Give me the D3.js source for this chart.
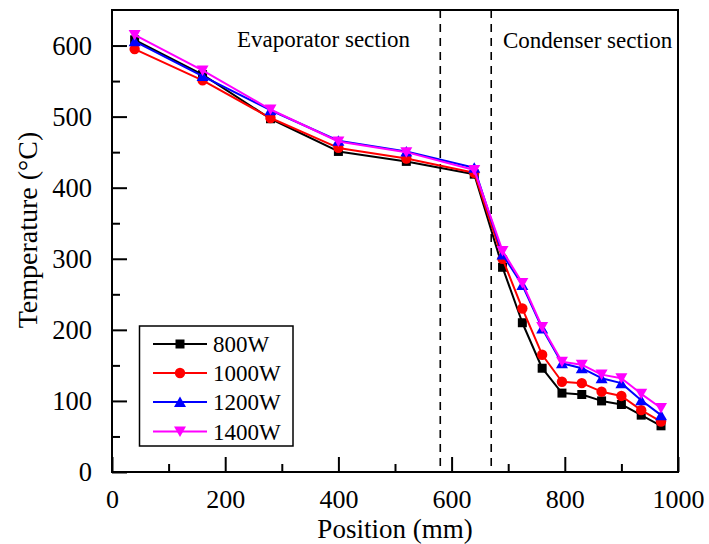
<!DOCTYPE html>
<html>
<head>
<meta charset="utf-8">
<script src="https://cdn.jsdelivr.net/npm/d3@7"></script>
<style>
  html, body { margin: 0; padding: 0; background: #fff; }
  svg { display: block; font-family: "Liberation Serif", "Times New Roman", serif; }
</style>
</head>
<body>
<svg id="chart" width="709" height="544"></svg>
<script>
// Measurement positions along the heat pipe (mm)
const positions = [40, 160, 280, 400, 520, 640, 690, 725, 760, 795, 830, 865, 900, 935, 970];

// Wall temperature (°C) for each heating power
const temp800  = [608, 559, 497, 451, 437, 419, 288, 210, 146, 111, 109, 100, 95, 80, 65];
const temp1000 = [595, 551, 498, 456, 441, 421, 300, 230, 165, 127, 125, 113, 107, 87, 71];
const temp1200 = [606, 557, 509, 466, 451, 428, 306, 263, 202, 153, 146, 132, 125, 101, 80];
const temp1400 = [615, 565, 510, 465, 450, 425, 311, 266, 204, 155, 151, 137, 132, 110, 90];

const seriesNames  = ["800W", "1000W", "1200W", "1400W"];
const seriesColors = ["#000000", "#ff0000", "#0000ff", "#ff00ff"];
const seriesShapes = ["square", "circle", "triangleUp", "triangleDown"];

// Section boundaries (mm) and labels
const sectionBounds = [580, 670];
const sectionLabels = ["Evaporator section", "Condenser section"];

const xMajorTicks = [0, 200, 400, 600, 800, 1000];
const xMinorTicks = [100, 300, 500, 700, 900];
const yMajorTicks = [0, 100, 200, 300, 400, 500, 600];
const yMinorTicks = [50, 150, 250, 350, 450, 550];

const svg = d3.select("#chart");
const margin = { left: 112, top: 10, right: 678, bottom: 472 };

const x = d3.scaleLinear().domain([0, 1000]).range([margin.left, margin.right]);
const y = d3.scaleLinear().domain([0, 650]).range([margin.bottom, margin.top]);

// Marker path generators, centred on the data point
function markerPath(shape) {
  switch (shape) {
    case "square": return "M-4.5,-4.5H4.5V4.5H-4.5Z";
    case "circle": return d3.arc()({ innerRadius: 0, outerRadius: 5.2, startAngle: 0, endAngle: 2 * Math.PI });
    case "triangleUp": return "M0,-5.5L6,5L-6,5Z";
    case "triangleDown": return "M0,5.5L6,-5L-6,-5Z";
  }
}

// Axes with inward ticks
const xAxisMajor = d3.axisBottom(x).tickValues(xMajorTicks).tickSize(-15).tickPadding(0).tickFormat(d3.format("d"));
const xAxisMinor = d3.axisBottom(x).tickValues(xMinorTicks).tickSize(-8).tickFormat("");
const yAxisMajor = d3.axisLeft(y).tickValues(yMajorTicks).tickSize(-15).tickPadding(20).tickFormat(d3.format("d"));
const yAxisMinor = d3.axisLeft(y).tickValues(yMinorTicks).tickSize(-8).tickFormat("");

function styleAxis(g) {
  g.select(".domain").remove();
  g.selectAll(".tick line").attr("stroke", "#000").attr("stroke-width", 2);
  g.selectAll("text").attr("fill", "#000").style("font-family", "'Liberation Serif', serif").style("font-size", "26.5px");
}

svg.append("g").attr("transform", `translate(0,${margin.bottom})`).call(xAxisMajor).call(styleAxis)
  .call(g => g.selectAll("text").attr("dy", null).attr("y", 36).style("font-size", "26px"));
svg.append("g").attr("transform", `translate(0,${margin.bottom})`).call(xAxisMinor).call(styleAxis);
svg.append("g").attr("transform", `translate(${margin.left},0)`).call(yAxisMajor).call(styleAxis);
svg.append("g").attr("transform", `translate(${margin.left},0)`).call(yAxisMinor).call(styleAxis);

// Section boundaries
svg.append("g").selectAll("line").data(sectionBounds).join("line")
  .attr("x1", d => x(d)).attr("x2", d => x(d))
  .attr("y1", margin.top).attr("y2", margin.bottom)
  .attr("stroke", "#000").attr("stroke-width", 1.6).attr("stroke-dasharray", "8,6");

// Section labels
svg.append("text").attr("x", 237).attr("y", 47).attr("font-size", 23).text(sectionLabels[0]);
svg.append("text").attr("x", 503).attr("y", 48).attr("font-size", 23).text(sectionLabels[1]);

// Data series
const allSeries = [temp800, temp1000, temp1200, temp1400];
const line = d3.line().x(d => x(d[0])).y(d => y(d[1]));

allSeries.forEach((vals, i) => {
  const pts = positions.map((p, j) => [p, vals[j]]);
  const g = svg.append("g");
  g.append("path").datum(pts).attr("d", line)
    .attr("fill", "none").attr("stroke", seriesColors[i]).attr("stroke-width", 2).attr("stroke-linejoin", "round");
  g.selectAll("path.m").data(pts).join("path").attr("class", "m")
    .attr("transform", d => `translate(${x(d[0])},${y(d[1])})`)
    .attr("d", markerPath(seriesShapes[i]))
    .attr("fill", seriesColors[i]);
});

// Plot frame
svg.append("rect")
  .attr("x", margin.left).attr("y", margin.top)
  .attr("width", margin.right - margin.left).attr("height", margin.bottom - margin.top)
  .attr("fill", "none").attr("stroke", "#000").attr("stroke-width", 2);

// Legend
const legend = svg.append("g");
legend.append("rect").attr("x", 139.5).attr("y", 326).attr("width", 153.5).attr("height", 120)
  .attr("fill", "#fff").attr("stroke", "#000").attr("stroke-width", 1.5);
const rowY = [344, 373, 402, 431.5];
seriesNames.forEach((name, i) => {
  const row = legend.append("g").attr("transform", `translate(0,${rowY[i]})`);
  row.append("line").attr("x1", 153).attr("x2", 207).attr("stroke", seriesColors[i]).attr("stroke-width", 2);
  row.append("path").attr("transform", "translate(180,0)").attr("d", markerPath(seriesShapes[i])).attr("fill", seriesColors[i]);
  row.append("text").attr("x", 213).attr("y", 8).attr("font-size", 23).text(name);
});

// Axis titles
svg.append("text").attr("x", 395).attr("y", 538).attr("text-anchor", "middle").attr("font-size", 27).text("Position (mm)");
svg.append("text").attr("transform", "translate(37,230) rotate(-90)").attr("text-anchor", "middle").attr("font-size", 28).text("Temperature (°C)");
</script>
</body>
</html>
